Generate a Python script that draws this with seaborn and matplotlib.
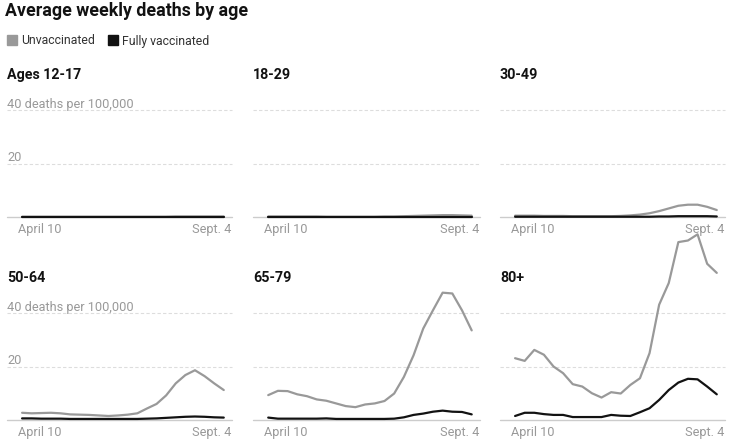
import numpy as np
import pandas as pd
import seaborn as sns
import matplotlib.pyplot as plt
import matplotlib.transforms as mtransforms

# Data: weekly average deaths per 100,000, April 10 - Sept. 4 (22 weeks)
dates = pd.date_range("2021-04-10", "2021-09-04", freq="7D")
age_groups = ["Ages 12-17", "18-29", "30-49", "50-64", "65-79", "80+"]
statuses = ["Unvaccinated", "Fully vaccinated"]

unvax_12_17 = [0.1, 0.1, 0.1, 0.1, 0.1, 0.1, 0.1, 0.1, 0.1, 0.1, 0.1, 0.1,
               0.1, 0.1, 0.1, 0.1, 0.2, 0.2, 0.2, 0.2, 0.2, 0.2]
vax_12_17 = [0.05] * 22

unvax_18_29 = [0.2, 0.2, 0.2, 0.2, 0.2, 0.2, 0.1, 0.1, 0.1, 0.1, 0.1, 0.1,
               0.2, 0.2, 0.3, 0.4, 0.5, 0.6, 0.7, 0.7, 0.6, 0.5]
vax_18_29 = [0.05] * 22

unvax_30_49 = [0.5, 0.5, 0.5, 0.4, 0.4, 0.4, 0.3, 0.3, 0.3, 0.3, 0.3, 0.4,
               0.6, 0.9, 1.4, 2.2, 3.2, 4.2, 4.6, 4.6, 3.8, 2.6]
vax_30_49 = [0.1, 0.1, 0.1, 0.1, 0.1, 0.1, 0.1, 0.1, 0.1, 0.1, 0.1, 0.1,
             0.1, 0.1, 0.1, 0.2, 0.2, 0.3, 0.3, 0.3, 0.3, 0.2]

unvax_50_64 = [2.7, 2.5, 2.6, 2.7, 2.5, 2.1, 2.0, 1.9, 1.7, 1.5, 1.7, 2.0,
               2.5, 4.3, 6.0, 9.2, 13.7, 16.8, 18.6, 16.4, 13.7, 11.2]
vax_50_64 = [0.6, 0.6, 0.5, 0.5, 0.5, 0.4, 0.4, 0.4, 0.4, 0.4, 0.4, 0.4,
             0.4, 0.5, 0.6, 0.8, 1.0, 1.2, 1.3, 1.2, 1.0, 0.9]

unvax_65_79 = [9.3, 10.9, 10.8, 9.6, 8.9, 7.7, 7.2, 6.2, 5.2, 4.8, 5.8, 6.2,
               7.1, 9.9, 16.1, 24.2, 34.2, 41.0, 47.6, 47.3, 41.0, 33.5]
vax_65_79 = [0.9, 0.5, 0.5, 0.5, 0.5, 0.5, 0.6, 0.4, 0.4, 0.4, 0.4, 0.4,
             0.4, 0.5, 1.0, 1.9, 2.4, 3.1, 3.5, 3.1, 3.0, 2.1]

unvax_80 = [23.1, 22.1, 26.2, 24.4, 20.0, 17.5, 13.4, 12.5, 10.0, 8.4, 10.4, 9.9,
            13.1, 15.6, 25.0, 43.1, 51.2, 66.5, 67.1, 69.4, 58.4, 55.0]
vax_80 = [1.5, 2.7, 2.7, 2.2, 1.9, 1.9, 1.1, 1.1, 1.1, 1.1, 1.9, 1.6,
          1.5, 2.9, 4.4, 7.5, 11.2, 14.0, 15.4, 15.2, 12.5, 9.6]

series = {
    "Ages 12-17": (unvax_12_17, vax_12_17),
    "18-29": (unvax_18_29, vax_18_29),
    "30-49": (unvax_30_49, vax_30_49),
    "50-64": (unvax_50_64, vax_50_64),
    "65-79": (unvax_65_79, vax_65_79),
    "80+": (unvax_80, vax_80),
}

rows = []
for grp, (unvax, vax) in series.items():
    for status, vals in zip(statuses, (unvax, vax)):
        for d, v in zip(dates, vals):
            rows.append({"age": grp, "status": status, "date": d, "deaths": v})
df = pd.DataFrame(rows)

palette = {"Unvaccinated": "#999999", "Fully vaccinated": "#121212"}

sns.set_theme(style="white")
plt.rcParams["font.family"] = ["Roboto", "DejaVu Sans"]

W, H = 730, 442
fig = plt.figure(figsize=(W / 100, H / 100), dpi=100)

# panel rectangles in pixels (left, top of 40-line, right, baseline)
col_x = [(7, 232), (253, 480), (500, 725)]
row_y = [(110, 217), (313, 420)]

fig.text(5 / W, 1 - 11 / H, "Average weekly deaths by age", fontsize=12.8,
         fontweight="bold", color="#121212", va="center", ha="left")

# legend
for x0, status in [(7, "Unvaccinated"), (108, "Fully vaccinated")]:
    fig.patches.append(plt.Rectangle((x0 / W, 1 - 45 / H), 10 / W, 10 / H,
                                     transform=fig.transFigure,
                                     color=palette[status]))
    fig.text((x0 + 14) / W, 1 - 44.5 / H, status, fontsize=8.8, color="#333333",
             va="baseline", ha="left")

for i, grp in enumerate(age_groups):
    r, c = divmod(i, 3)
    (xl, xr), (yt, yb) = col_x[c], row_y[r]
    ax = fig.add_axes([xl / W, 1 - yb / H, (xr - xl) / W, (yb - yt) / H])
    sub = df[df["age"] == grp]
    # dashed gridlines and baseline
    for g in (20, 40):
        ax.axhline(g, color="#dddddd", lw=0.8, ls=(0, (3, 2)), zorder=0)
    ax.axhline(0, color="#cccccc", lw=1, zorder=0)
    sns.lineplot(data=sub, x="date", y="deaths", hue="status", palette=palette,
                 hue_order=statuses, lw=1.6, legend=False, ax=ax)
    for ln in ax.lines:
        ln.set_clip_on(False)
    ax.set_ylim(0, 40)
    ax.set_xlim(dates[0] - pd.Timedelta(days=11), dates[-1] + pd.Timedelta(days=6))
    for s in ax.spines.values():
        s.set_visible(False)
    ax.set_yticks([])
    ax.set_xlabel("")
    ax.set_ylabel("")
    ax.set_xticks([dates[0], dates[-1]])
    ax.set_xticklabels(["April 10", "Sept. 4"], fontsize=9.2, color="#999999")
    ax.tick_params(axis="x", length=0, pad=4)
    labs = ax.get_xticklabels()
    labs[0].set_ha("left")
    labs[0].set_transform(labs[0].get_transform() +
                          mtransforms.ScaledTranslation(-4 / 100, 0, fig.dpi_scale_trans))
    labs[1].set_ha("right")
    labs[1].set_transform(labs[1].get_transform() +
                          mtransforms.ScaledTranslation(8 / 100, 0, fig.dpi_scale_trans))
    # panel title
    ax.text(0, 1 + 28 / (yb - yt), grp, transform=ax.transAxes, fontsize=10.3,
            fontweight="bold", color="#121212", va="bottom", ha="left")
    if c == 0:
        ax.text(0, 40.8, "40 deaths per 100,000", transform=ax.get_yaxis_transform(),
                fontsize=9.2, color="#999999", va="baseline", ha="left")
        ax.text(0, 20.8, "20", transform=ax.get_yaxis_transform(),
                fontsize=9.2, color="#999999", va="baseline", ha="left")

fig.savefig("out.png", dpi=100)
